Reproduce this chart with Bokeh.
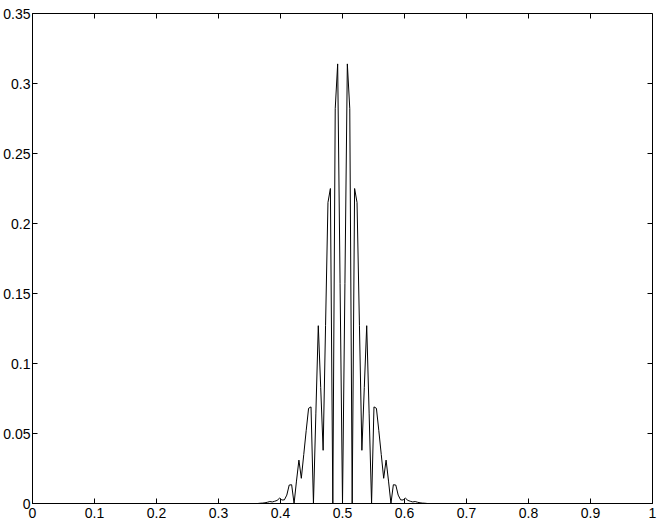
import math
from bokeh.plotting import figure
from bokeh.models import LinearAxis, FixedTicker, Range1d
from bokeh.embed import file_html
from bokeh.resources import INLINE

# sample positions (frequency axis) and values
freq = [0.0,
        0.36328, 0.36719, 0.37109, 0.375, 0.37891, 0.38281, 0.38672, 0.39063,
        0.39453, 0.39844, 0.40234, 0.40625, 0.41016, 0.41406, 0.41797, 0.42188,
        0.42578, 0.42969, 0.43359, 0.4375, 0.44141, 0.44531, 0.44922, 0.45313,
        0.45703, 0.46094, 0.46484, 0.46875, 0.47266, 0.47656, 0.48047, 0.48438,
        0.48828, 0.49219, 0.49609, 0.5,
        0.50391, 0.50781, 0.51172, 0.51563, 0.51953, 0.52344, 0.52734, 0.53125,
        0.53516, 0.53906, 0.54297, 0.54688, 0.55078, 0.55469, 0.55859, 0.5625,
        0.56641, 0.57031, 0.57422, 0.57813, 0.58203, 0.58594, 0.58984, 0.59375,
        0.59766, 0.60156, 0.60547, 0.60938, 0.61328, 0.61719, 0.62109, 0.625,
        0.62891, 0.63281, 0.63672,
        1.0]

power = [0.0,
         0.0, 0.0002, 0.0003, 0.0005, 0.0009, 0.0014, 0.0011, 0.0016,
         0.0022, 0.0038, 0.0025, 0.0026, 0.0060, 0.0132, 0.0134, 0.0,
         0.016, 0.031, 0.018, 0.035, 0.052, 0.068, 0.069, 0.0,
         0.064, 0.127, 0.083, 0.038, 0.127, 0.215, 0.225, 0.0,
         0.282, 0.314, 0.157, 0.0,
         0.157, 0.314, 0.282, 0.0, 0.225, 0.215, 0.127, 0.038,
         0.083, 0.127, 0.064, 0.0, 0.069, 0.068, 0.052, 0.035,
         0.018, 0.031, 0.016, 0.0, 0.0134, 0.0132, 0.0060, 0.0026,
         0.0025, 0.0038, 0.0022, 0.0016, 0.0011, 0.0014, 0.0009, 0.0005,
         0.0003, 0.0002, 0.0,
         0.0]

xticks = [0, 0.1, 0.2, 0.3, 0.4, 0.5, 0.6, 0.7, 0.8, 0.9, 1]
xtick_labels = ["0", "0.1", "0.2", "0.3", "0.4", "0.5", "0.6", "0.7", "0.8", "0.9", "1"]
yticks = [0, 0.05, 0.1, 0.15, 0.2, 0.25, 0.3, 0.35]
ytick_labels = ["0", "0.05", "0.1", "0.15", "0.2", "0.25", "0.3", "0.35"]

X_MIN, X_MAX = 0, 1
Y_MIN, Y_MAX = 0, 0.35

FONT = "Liberation Sans"
FSIZE = "14px"

p = figure(width=660, height=520, x_range=Range1d(X_MIN, X_MAX), y_range=Range1d(Y_MIN, Y_MAX),
           output_backend="svg", toolbar_location=None,
           x_axis_location=None, y_axis_location=None)
p.min_border_left = 0
p.min_border_right = 8
p.min_border_top = 13
p.min_border_bottom = 0
p.xgrid.visible = False
p.ygrid.visible = False
p.outline_line_color = "black"
p.outline_line_width = 1
p.background_fill_color = "white"
p.border_fill_color = "white"


def style(ax, ticks, labels, standoff):
    ax.ticker = FixedTicker(ticks=ticks)
    ax.major_label_overrides = {t: l for t, l in zip(ticks, labels)}
    ax.minor_tick_line_color = None
    ax.major_tick_in = 5
    ax.major_tick_out = 0
    ax.major_tick_line_color = "black"
    ax.axis_line_color = "black"
    ax.major_label_text_font = FONT
    ax.major_label_text_font_size = FSIZE
    ax.major_label_text_color = "black"
    ax.major_label_standoff = standoff


xb = LinearAxis()
style(xb, xticks, xtick_labels, 4)
p.add_layout(xb, "below")
yl = LinearAxis()
style(yl, yticks, ytick_labels, 2)
p.add_layout(yl, "left")

# mirrored inward ticks on the top and right edges of the box (clipped to the frame)
p.scatter(xticks, [Y_MAX] * len(xticks), marker="dash", angle=math.pi / 2, size=10,
          line_color="black", line_width=1)
p.scatter([X_MAX] * len(yticks), yticks, marker="dash", size=10,
          line_color="black", line_width=1)

p.line(freq, power, line_color="black", line_width=1)

open("out.html", "w").write(file_html(p, INLINE))
